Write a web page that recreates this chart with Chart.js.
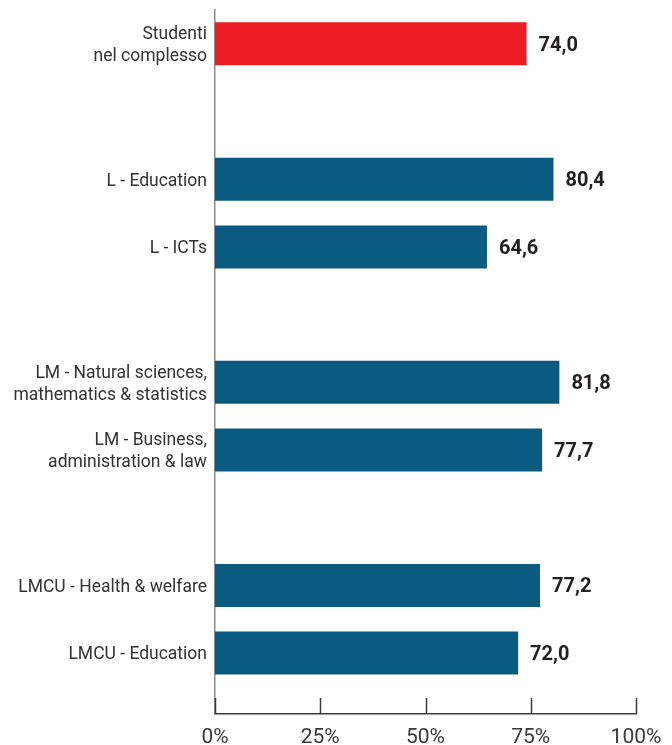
<!DOCTYPE html>
<html lang="it">
<head>
<meta charset="utf-8">
<title>Studenti per area disciplinare</title>
<script src="https://cdn.jsdelivr.net/npm/chart.js@4/dist/chart.umd.min.js"></script>
<style>
  html, body { margin: 0; padding: 0; background: #ffffff; }
  #wrap { width: 672px; height: 745px; position: relative; }
</style>
</head>
<body>
<div id="wrap"><canvas id="studentChart"></canvas></div>
<script>
// Category labels (multi-line where the label wraps)
const categories = [
  ['Studenti', 'nel complesso'],
  'L - Education',
  'L - ICTs',
  ['LM - Natural sciences,', 'mathematics & statistics'],
  ['LM - Business,', 'administration & law'],
  'LMCU - Health & welfare',
  'LMCU - Education'
];
// Row slot of each category (empty slots separate the groups)
const rowPositions = [0, 2, 3, 5, 6, 8, 9];
const values = [74.0, 80.4, 64.6, 81.8, 77.7, 77.2, 72.0];
const barColors = ['#ed1c24', '#0b5a7f', '#0b5a7f', '#0b5a7f', '#0b5a7f', '#0b5a7f', '#0b5a7f'];
const xTicks = [0, 25, 50, 75, 100];

document.addEventListener('DOMContentLoaded', () => {
  const fontFamily = 'Roboto, "DejaVu Sans", sans-serif';

  // value labels at the end of each bar + short upward ticks on the x axis
  const barExtras = {
    id: 'barExtras',
    afterDatasetsDraw(chart) {
      const { ctx, scales: { x, y }, chartArea } = chart;
      ctx.save();
      ctx.font = `700 20px ${fontFamily}`;
      ctx.fillStyle = '#231f20';
      ctx.textAlign = 'left';
      ctx.textBaseline = 'middle';
      values.forEach((v, i) => {
        const px = x.getPixelForValue(v) + 12;
        const py = y.getPixelForValue(rowPositions[i]) + 2;
        ctx.fillText(v.toFixed(1).replace('.', ','), px, py);
      });

      ctx.strokeStyle = '#3a3a3a';
      ctx.lineWidth = 1.5;
      xTicks.forEach(t => {
        const px = Math.round(x.getPixelForValue(t)) + 0.5;
        ctx.beginPath();
        ctx.moveTo(px, chartArea.bottom - 16);
        ctx.lineTo(px, chartArea.bottom);
        ctx.stroke();
      });
      ctx.restore();
    }
  };

  const ctx = document.getElementById('studentChart').getContext('2d');
  new Chart(ctx, {
    type: 'bar',
    data: {
      datasets: [{
        data: values.map((v, i) => ({ x: v, y: rowPositions[i] })),
        backgroundColor: barColors,
        borderWidth: 0,
        barPercentage: 0.635,
        categoryPercentage: 1
      }]
    },
    options: {
      indexAxis: 'y',
      responsive: true,
      maintainAspectRatio: false,
      animation: false,
      layout: { padding: { top: 10, right: 36, left: 0, bottom: 0 } },
      plugins: {
        legend: { display: false },
        tooltip: { enabled: false }
      },
      scales: {
        x: {
          type: 'linear',
          min: 0,
          max: 100,
          afterBuildTicks: scale => { scale.ticks = xTicks.map(v => ({ value: v })); },
          afterFit: scale => {
            scale.height = 31;
            scale.paddingLeft = 0;
            scale.paddingRight = 0;
          },
          grid: { display: false, drawTicks: false },
          border: { display: true, color: '#3a3a3a', width: 1.5 },
          ticks: {
            padding: 11,
            color: '#3a3a3a',
            font: { family: fontFamily, size: 21 },
            callback: v => v + '%'
          }
        },
        y: {
          type: 'linear',
          reverse: true,
          offset: false,
          min: -0.5,
          max: 9.9,
          afterBuildTicks: scale => { scale.ticks = rowPositions.map(v => ({ value: v })); },
          afterFit: scale => {
            scale.width = 215;
            scale.paddingTop = 0;
            scale.paddingBottom = 0;
          },
          grid: { display: false, drawTicks: false, offset: false },
          border: { display: true, color: '#8c8c8c', width: 1.5 },
          ticks: {
            padding: 8,
            labelOffset: 2,
            color: '#333333',
            font: { family: fontFamily, size: 17.5, lineHeight: 1.26 },
            callback: v => categories[rowPositions.indexOf(v)]
          }
        }
      }
    },
    plugins: [barExtras]
  });
});
</script>
</body>
</html>
